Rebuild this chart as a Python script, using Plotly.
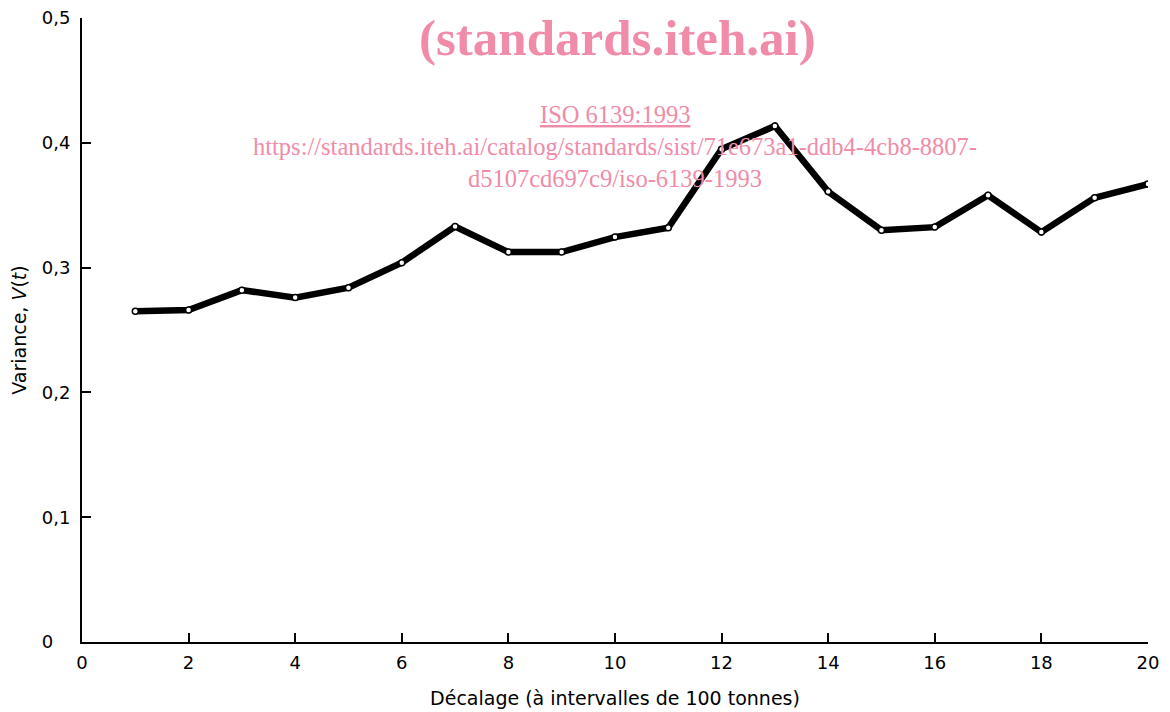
import plotly.graph_objects as go

lag = list(range(1, 21))
variance = [0.265, 0.266, 0.282, 0.276, 0.284, 0.304, 0.333, 0.3125, 0.3125, 0.3245,
            0.332, 0.395, 0.4135, 0.361, 0.330, 0.3325, 0.358, 0.3285, 0.356, 0.367]

x_ticks = [0, 2, 4, 6, 8, 10, 12, 14, 16, 18, 20]
y_ticks = [0, 0.1, 0.2, 0.3, 0.4, 0.5]
y_ticktext = ["0\u00a0\u00a0\u00a0", "0,1", "0,2", "0,3", "0,4", "0,5"]

tick_font = dict(family="DejaVu Sans", size=18, color="black")
title_font = dict(family="DejaVu Sans", size=19, color="black")
pink = "#f08ca8"

# page offset (browser body margin)
OFF = 8
W, H = 1170 - OFF, 712 - OFF
L, R, T, B = 82 - OFF, 22, 18 - OFF, 70

fig = go.Figure()
fig.add_trace(go.Scatter(
    x=lag, y=variance, mode="lines+markers",
    line=dict(color="black", width=6.5),
    marker=dict(symbol="circle", size=6, color="white",
                line=dict(color="black", width=1.5)),
    showlegend=False, hoverinfo="x+y"))

fig.update_layout(
    width=W, height=H,
    margin=dict(l=L, r=R, t=T, b=B, autoexpand=False),
    plot_bgcolor="white", paper_bgcolor="white",
    font=tick_font,
    xaxis=dict(range=[0, 20.001], tickvals=x_ticks, ticktext=[str(v) for v in x_ticks],
               ticks="inside", ticklen=9, tickwidth=1.5, tickcolor="black",
               showline=True, linecolor="black", linewidth=2, mirror=False,
               showgrid=False, zeroline=False, tickfont=tick_font,
               ticklabeloverflow="allow", automargin=False, ticklabelstandoff=3,
               title=dict(text="Décalage (à intervalles de 100 tonnes)", font=title_font, standoff=20)),
    yaxis=dict(range=[0, 0.5001], tickvals=y_ticks, ticktext=y_ticktext,
               ticks="inside", ticklen=9, tickwidth=1.5, tickcolor="black",
               showline=True, linecolor="black", linewidth=2,
               showgrid=False, zeroline=False, tickfont=tick_font,
               ticklabeloverflow="allow", automargin=False, ticklabelstandoff=6,
               title=dict(text="Variance, <i>V</i>(<i>t</i>)", font=title_font, standoff=14)),
)

def add_text(text, px, py, size):
    fig.add_annotation(text=text, xref="paper", yref="paper",
                       x=(px - 82) / (1148 - 82), y=1 - (py - 18) / (642 - 18),
                       xanchor="center", yanchor="middle", showarrow=False,
                       font=dict(family="Liberation Serif", size=size, color=pink))

add_text("<b>(standards.iteh.ai)</b>", 617, 38, 51)
add_text("<u>ISO 6139:1993</u>", 615, 114, 24.5)
add_text("https://standards.iteh.ai/catalog/standards/sist/71e673a1-ddb4-4cb8-8807-", 615, 147, 24.5)
add_text("d5107cd697c9/iso-6139-1993", 615, 179, 24.5)

fig.write_html("out.html")
